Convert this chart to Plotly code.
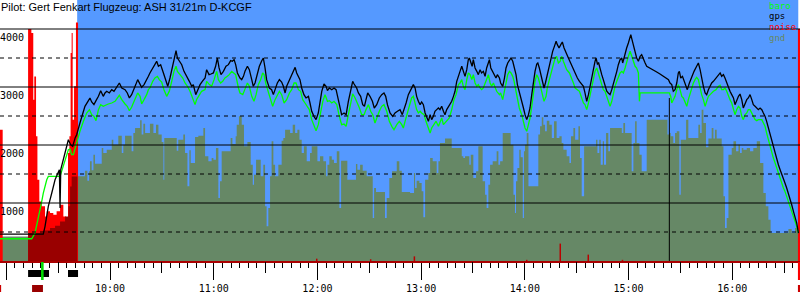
import plotly.graph_objects as go
import pandas as pd

# ---------------- data (minutes after 09:00, metres) ----------------
BASE = pd.Timestamp("2023-07-15 09:00:00")

title_text = "Pilot: Gert Fenkart Flugzeug: ASH 31/21m D-KCGF"
legend_names = ["baro", "gps", "noise", "gnd"]
y_solid = [1000, 2000, 3000, 4000]
y_dashed = [500, 1500, 2500, 3500]
y_tick_labels = ["1000", "2000", "3000", "4000"]
view_minutes = [-3.65, 459.2]
flight_minutes = [41.0, 458.2]
hour_ticks = [0, 60, 120, 180, 240, 300, 360, 420]
half_hour_ticks = [-30, 30, 90, 150, 210, 270, 330, 390, 450]

gps = [(-3.7,465),(21.4,465),(22.4,597),(24.3,942),(26.3,1172),(28.2,1401),(30.7,1574),(31.1,913),(31.5,1574),(33.0,1746),(34.9,1976),(35.9,2091),(37.2,2005),(38.4,1976),(39.8,2120),(40.7,2178),(42.6,2380),(44.6,2552),(45.5,2667),(47.5,2765),(48.4,2811),(49.4,2742),(50.7,2696),(51.9,2765),(53.3,2839),(54.6,2937),(55.2,2897),(56.1,2839),(57.1,2897),(58.1,2926),(59.6,2897),(61.0,2954),(62.3,2926),(63.9,2995),(65.4,3069),(66.8,2983),(68.7,2954),(70.0,2897),(71.2,2811),(72.5,2868),(73.5,2954),(74.9,3041),(76.0,3127),(77.4,3041),(78.3,2995),(79.7,3041),(80.8,3098),(82.2,3184),(83.1,3242),(84.7,3328),(86.0,3397),(87.0,3443),(88.0,3357),(89.3,3385),(90.9,3242),(92.4,3098),(93.4,3012),(94.7,3155),(96.3,3357),(97.6,3529),(98.2,3627),(99.0,3500),(100.1,3454),(101.5,3385),(102.8,3270),(104.0,3213),(104.8,3155),(105.9,3098),(107.3,3012),(108.2,3041),(109.6,2868),(110.7,2954),(112.1,3041),(113.4,3098),(115.0,3155),(115.9,3299),(117.3,3213),(118.4,3224),(119.8,3242),(121.1,3357),(122.1,3500),(123.1,3328),(124.2,3213),(125.6,3270),(127.1,3357),(128.5,3385),(129.8,3454),(130.8,3443),(131.8,3472),(132.7,3385),(133.7,3242),
       (135.2,3155),(136.2,3127),(137.2,3184),(138.1,3270),(139.5,3357),(140.6,3299),(142.0,3127),(142.9,3012),(143.9,3069),(145.3,3213),(146.4,3357),(147.8,3454),(148.7,3500),(149.7,3328),(150.6,3127),(152.2,2983),(153.5,2954),(154.5,2868),(155.5,2954),(156.8,3069),(158.0,3127),(159.3,3086),(160.3,3012),(161.3,2897),(162.2,3012),(163.8,3127),(165.1,3213),(166.1,3270),(167.1,3339),(168.0,3242),(169.0,3184),(169.9,3127),(170.9,2983),(172.2,2868),(173.4,2811),(174.8,2839),(175.7,2724),(176.7,2581),(178.0,2494),(179.2,2437),(180.5,2552),(181.5,2753),(182.5,2926),(183.8,3052),(185.0,3012),(185.8,2937),(186.9,2983),(188.3,2954),(189.6,2983),(190.8,2954),(191.5,2868),(192.7,2667),(194.0,2523),(195.4,2552),(196.6,2523),(197.9,2753),(199.3,2954),(200.4,3098),(201.2,3052),(202.7,2983),(203.7,2897),(205.0,2839),(206.2,2695),(207.2,2667),(208.1,2782),(209.1,2897),(210.4,2839),(211.8,2753),(212.9,2638),(214.3,2695),(215.8,2811),(217.2,2868),(218.5,2897),(219.5,2839),(220.5,2695),(222.0,2552),(223.6,2494),(224.9,2552),(226.3,2581),(227.8,2610),(229.1,2523),(230.1,2610),(231.3,2724),(232.6,2868),
       (234.5,2983),(235.5,3041),(236.5,2983),(237.4,2839),(238.4,2753),(239.4,2696),(240.3,2742),(241.3,2696),(242.3,2552),(243.2,2494),(244.2,2408),(245.2,2523),(246.1,2437),(247.1,2494),(248.0,2581),(249.0,2610),(250.0,2638),(250.9,2610),(251.9,2667),(252.9,2581),(253.8,2523),(254.8,2610),(255.8,2667),(256.7,2696),(257.7,2753),(258.7,2839),(259.6,2926),(260.6,3098),(261.6,3213),(262.5,3270),(263.5,3357),(264.4,3270),(265.4,3184),(266.4,3299),(267.3,3471),(267.9,3500),(268.7,3414),(269.5,3357),(270.2,3471),(271.2,3328),(272.2,3270),(273.1,3213),(274.1,3299),(275.0,3242),(276.0,3270),(277.0,3184),(277.9,3328),(278.9,3443),(279.5,3471),(280.3,3328),(281.4,3270),(282.2,3213),(283.3,3155),(284.1,3213),(285.3,3155),(286.0,3069),(287.2,3012),(288.2,3155),(289.1,3328),(290.1,3414),(291.1,3471),(292.0,3500),(293.0,3443),(293.8,3357),(294.9,3213),(295.7,3041),(296.8,2897),(298.2,2724),(299.2,2638),(300.1,2523),(301.1,2437),(302.1,2523),(303.0,2638),(304.0,2868),(304.9,3098),(305.9,3270),(306.9,3397),(307.5,3414),(308.4,3328),(309.2,3213),(310.2,3098),(311.1,2983),(311.9,3069),(313.0,3213),(314.2,3414),(315.0,3500),(316.1,3615),(317.1,3701),(318.1,3788),(318.8,3730),(319.8,3673),(320.8,3730),(321.7,3776),(322.7,3673),(323.8,3586),(325.2,3500),(326.5,3414),(327.7,3328),(329.1,3242),(330.4,3155),(331.6,3098),
       (332.9,3041),(333.9,3012),(334.8,2897),(335.8,2753),(336.8,2868),(337.7,3012),(338.7,3155),(339.7,3328),(340.6,3443),(341.2,3500),(342.0,3397),(342.7,3414),(343.5,3299),(344.5,3213),(345.4,3127),(346.4,3012),(347.4,2926),(348.3,2897),(349.3,2868),(350.3,2954),(351.2,3041),(352.2,3155),(353.2,3270),(354.1,3385),(355.1,3471),(356.1,3500),(356.6,3414),(357.4,3500),(358.0,3586),(358.9,3673),(359.9,3759),(360.5,3816),(361.3,3903),(362.0,3816),(362.8,3730),(363.8,3644),(364.7,3500),(365.7,3443),(366.7,3529),(367.6,3558),(368.6,3500),(369.6,3414),(370.5,3357),(372.4,3328),(374.4,3299),(376.3,3259),(378.2,3224),(380.2,3184),(382.1,3155),(383.1,3127),(384.0,3069),(385.0,3041),(385.9,2926),(386.9,2954),(387.9,3069),(388.8,3242),(389.4,3270),(390.2,3155),(391.2,3184),(392.1,3098),(393.3,2983),(394.0,2954),(395.2,3069),(396.6,3184),(397.9,3270),(399.4,3357),(400.4,3414),(401.4,3299),(402.3,3127),(403.3,3012),(404.3,2897),(405.2,2868),(406.2,2954),(407.2,3012),(408.1,3069),(409.1,3098),(410.6,3155),(412.0,3213),(413.0,3242),(413.9,3184),(414.9,3213),(415.8,3155),(416.8,3069),(417.8,2983),(418.7,2926),(419.7,2868),(420.7,2811),(421.6,2696),(422.6,2782),(423.6,2839),(424.5,2879),(425.5,2782),(426.4,2638),(427.4,2724),(428.4,2782),(429.3,2811),(430.3,2868),(431.3,2782),(432.2,2696),(433.2,2667),(434.2,2638),(435.1,2610),
       (436.1,2637),(437.1,2608),(438.0,2551),(439.0,2493),(439.9,2407),(440.9,2292),(441.9,2177),(442.8,2062),(443.8,1947),(444.8,1861),(445.7,1775),(446.7,1660),(447.7,1574),(448.6,1488),(449.6,1402),(450.5,1344),(451.5,1258),(452.5,1172),(453.4,1085),(454.4,970),(455.4,856),(456.3,769),(457.3,654),(458.3,482)]

baro = [(-3.7,384),(14.7,384),(16.6,482),(18.5,712),(19.5,884),(20.5,1028),(21.4,1172),(23.4,1401),(24.3,1459),(31.1,1459),(33.0,1631),(34.9,1804),(35.9,1919),(36.9,1930),(37.8,1833),(38.8,1833),(39.8,1947),
        (40.7,2040),(42.6,2236),(44.6,2408),(46.5,2552),(48.1,2610),(49.4,2523),(50.7,2494),(51.9,2420),(53.3,2610),(54.6,2696),(56.1,2667),(57.7,2696),(59.0,2707),(61.0,2724),(62.9,2753),(65.4,2857),(66.8,2782),(68.7,2707),(70.0,2667),(71.2,2592),(72.5,2650),(73.5,2724),(74.9,2839),(76.0,2897),(77.4,2839),(78.3,2707),(79.7,2782),(81.2,2868),(82.2,2954),(83.1,2983),(84.7,3098),(86.0,3155),(87.4,3184),(88.5,3127),(89.9,3086),(91.2,2954),(92.8,2839),(94.3,2926),(95.7,3098),(97.0,3270),(98.2,3357),(99.0,3270),(100.5,3213),(102.1,3155),(103.4,3069),(104.8,3012),(106.3,2926),(107.8,2811),(109.2,2696),(110.1,2782),(111.7,2868),(113.0,2926),(115.0,2954),(115.9,3098),(117.5,3041),(118.8,3012),(120.2,3127),(121.7,3270),(122.7,3127),(124.0,3069),(125.2,3098),(126.5,3155),(127.9,3184),(129.0,3213),(130.4,3270),(131.4,3242),(132.7,3213),(134.3,2983),
        (135.2,2897),(136.8,2868),(138.1,2983),(139.5,3069),(140.6,3012),(142.0,2839),(143.3,2753),(144.5,2868),(145.8,3041),(147.2,3127),(148.3,3242),(149.1,3213),(150.3,3041),(151.6,2926),(153.0,2782),(154.1,2667),(155.5,2782),(156.8,2868),(158.0,2926),(159.3,2868),(160.7,2724),(162.2,2782),(163.8,2897),(165.1,2954),(166.5,3069),(167.6,3069),(169.0,2954),(170.3,2926),(171.5,2782),(172.8,2724),(174.2,2650),(175.3,2610),(176.7,2437),(178.0,2351),(179.2,2247),(180.5,2351),(181.5,2523),(183.1,2753),(184.4,2868),(185.8,2753),(186.9,2765),(188.3,2724),(189.6,2753),(191.2,2696),(192.7,2494),(194.0,2351),(195.4,2362),(196.6,2322),(197.9,2523),(199.3,2753),(200.4,2880),(201.8,2811),(203.1,2724),(204.3,2638),(205.6,2523),(207.0,2523),(208.1,2610),(209.5,2696),(210.8,2581),(212.0,2523),(213.3,2379),(214.3,2465),(215.8,2581),(217.2,2667),(218.5,2696),(220.1,2581),(221.6,2408),(223.0,2322),(224.3,2264),(225.9,2351),(227.4,2408),(228.8,2351),(229.7,2293),(230.7,2408),(232.0,2552),
        (233.6,2696),(234.5,2811),(235.5,2839),(236.5,2724),(237.4,2610),(238.4,2552),(239.4,2581),(240.3,2552),(241.7,2523),(242.8,2408),(244.2,2293),(245.2,2207),(246.1,2293),(247.5,2351),(248.6,2408),(250.0,2322),(250.9,2379),(251.9,2465),(252.9,2351),(253.8,2379),(254.8,2408),(256.3,2465),(257.7,2610),(259.0,2782),(260.2,2868),(261.6,3041),(262.5,3069),(263.5,3127),(264.4,3012),(265.4,2954),(266.4,3127),(267.3,3242),(268.3,3213),(269.3,3127),(270.2,3213),(271.2,3069),(272.2,3012),(273.1,3041),(274.1,2983),(275.0,2954),(276.0,2983),(277.0,3069),(277.9,3127),(278.9,3213),(279.9,3069),(280.8,3012),(281.8,3069),(282.8,2983),(283.7,2926),(285.3,2868),(286.0,2897),(287.2,2782),(288.2,2926),(289.1,3098),(290.1,3213),(291.1,3270),(292.0,3242),(293.0,3184),(293.8,3098),(294.9,2926),(295.7,2782),(296.8,2638),(298.2,2523),(299.2,2408),(300.1,2293),(301.1,2236),(302.1,2351),(303.0,2465),(304.0,2667),(304.9,2926),(305.9,3098),(306.9,3213),(307.8,3155),(308.8,3041),(309.8,2897),(311.1,2753),(312.3,2839),(313.0,2983),(314.2,3127),(315.2,3242),(316.5,3414),(317.5,3500),(318.4,3529),(319.4,3414),(320.4,3443),(321.3,3529),(322.3,3443),(323.3,3357),(324.2,3299),(325.8,3242),(327.1,3155),(328.1,3069),(329.1,2983),(330.4,2954),(331.6,2926),
        (332.9,2811),(333.9,2724),(334.8,2696),(335.8,2610),(336.8,2724),(337.7,2868),(338.7,3012),(339.7,3155),(340.6,3270),(341.6,3328),(342.5,3242),(343.5,3155),(344.5,3069),(345.4,2954),(346.4,2926),(347.4,2839),(348.3,2753),(349.3,2667),(350.3,2753),(351.2,2897),(352.2,3012),(353.2,3098),(354.1,3184),(355.1,3242),(356.1,3270),(357.0,3242),(358.0,3328),(358.9,3443),(359.9,3529),(360.9,3615),(361.8,3529),(362.8,3414),(363.8,3357),(364.7,3328),(365.7,3242),(366.3,2753),(366.7,2897),(383.6,2897),(384.4,2839),(385.0,2724),(385.9,2782),(386.9,2839),(387.9,2954),(388.8,3041),(389.8,2954),(390.8,2839),(391.7,2811),(392.7,2753),(393.7,2667),(394.6,2782),(395.6,2897),(396.6,2983),(397.5,3069),(398.5,3127),(399.4,3167),(400.4,3127),(401.4,2983),(402.3,2868),(403.3,2782),(404.3,2667),(405.2,2753),(406.2,2839),(407.2,2868),(408.1,2897),(409.1,2926),(410.6,2954),(412.0,3012),(413.0,3029),(413.9,2954),(414.9,2954),(415.8,2983),(416.8,2926),(417.8,2839),(418.7,2782),(419.7,2724),(420.7,2610),(421.6,2523),(422.6,2610),(423.6,2667),(424.5,2638),(425.5,2494),(426.4,2437),(427.4,2523),(428.4,2552),(429.3,2610),(430.3,2610),(431.3,2552),(432.2,2494),(433.2,2437),(434.2,2420),(435.1,2437),
        (437.1,2436),(438.0,2378),(439.0,2321),(439.9,2206),(440.9,2091),(441.9,1976),(442.8,1861),(443.8,1775),(444.8,1689),(445.7,1603),(446.7,1516),(447.7,1430),(448.6,1344),(449.6,1258),(450.5,1200),(451.5,1114),(452.5,1028),(453.4,942),(454.4,856),(455.4,770),(456.3,683),(457.3,597),(458.3,482)]

gnd = [(-3.7,424),(41.1,1460),(45.5,1558),(46.9,1385),(47.9,1546),(48.4,1719),(49.4,1564),(50.4,1834),(51.3,1678),(55.2,1949),(56.1,1862),(58.1,1920),(61.0,2092),(61.9,2006),(64.8,2161),(66.8,1862),(67.7,2006),(68.7,2161),(72.5,1891),(73.5,2207),(74.5,2293),(77.4,2426),(78.3,2179),(79.3,2368),(80.3,2207),(83.1,2368),(85.1,2207),(86.6,2351),(88.0,2179),(89.9,2052),(90.9,1403),(91.4,2121),(98.6,1903),(99.5,2092),(102.4,2179),(103.4,1862),(104.8,1288),(105.9,1908),(106.7,1690),(109.2,2138),(111.1,2161),(114.0,2293),(115.0,1805),(116.9,1719),(118.8,1776),(119.8,1747),(121.3,1949),(122.7,1087),(123.6,1374),(124.6,1891),(129.8,2121),(130.8,2018),(132.7,2150),(133.3,2351),(134.6,2494),
       (136.2,2351),(137.5,1977),(139.5,2052),(141.4,1661),(142.6,1316),(143.3,1489),(144.5,1747),(147.2,1460),(148.7,1661),(149.7,943),(150.6,598),(151.6,914),(152.6,1460),(153.5,2064),(154.5,1661),(155.5,1460),(157.4,1661),(159.3,2075),(160.3,2121),(161.3,2265),(164.2,2207),(165.7,2351),(167.1,2207),(168.4,2265),(169.6,2092),(170.9,1862),(172.2,1977),(173.8,1719),(175.7,1862),(176.7,1977),(180.0,1719),(181.5,1805),(183.4,1719),(185.0,1460),(185.8,1661),(186.9,1805),(188.3,1747),(189.6,1690),(191.2,1891),(192.7,914),(193.7,1730),(197.3,1403),(202.3,1673),(203.1,1575),(204.7,1661),(206.2,1558),(208.5,1460),(212.0,742),(212.8,1259),(213.9,1190),(219.1,742),(220.1,1087),(221.6,1431),(223.2,1546),(225.9,1719),(227.4,1558),(228.8,1190),
       (233.6,1173),(235.9,1517),(236.5,1259),(237.4,1385),(239.0,1345),(240.3,1201),(241.3,753),(242.3,1403),(244.2,1517),(245.2,1776),(246.7,1719),(249.0,1517),(250.0,1719),(250.9,2035),(253.8,2110),(257.7,1949),(263.5,1805),(264.4,1776),(265.4,1805),(267.9,1661),(268.7,1834),(270.2,1431),(271.8,1546),(273.1,1977),(275.6,1374),(277.0,1144),(277.9,914),(278.9,1316),(279.9,1661),(281.4,1719),(283.7,1891),(284.7,1661),(285.7,1719),(287.2,2207),(291.8,2006),(293.4,1144),(294.3,828),(294.9,1374),(295.7,1604),(296.8,1920),(297.6,1788),(298.8,742),(299.5,1891),(300.1,2006),(301.1,2207),(302.1,1288),(307.8,2179),(308.8,2322),(309.8,2477),(310.7,2351),(311.7,2236),(312.7,2420),(314.2,2351),(315.6,2121),(316.9,2408),(318.4,2121),(320.0,2150),(321.3,2035),(322.3,1920),(324.2,1805),(325.8,1690),(326.7,2150),(328.1,2293),(329.1,2092),(331.0,2322),
       (331.9,1776),(332.9,1115),(334.3,1977),(341.2,2092),(342.0,1862),(343.1,2092),(343.9,1661),(345.1,2064),(345.8,1661),(347.0,2207),(348.3,1891),(349.3,2293),(356.1,2207),(357.0,2380),(358.0,2207),(361.8,1546),(362.8,2035),(363.8,2408),(364.7,2035),(366.3,1834),(367.6,1546),(370.5,2437),(382.5,2179),(383.6,2207),(384.4,2150),(385.9,2035),(386.9,2207),(387.9,2236),(389.4,1144),(390.2,2092),(393.3,2437),(394.6,2121),(400.4,2351),(401.4,2207),(402.3,2609),(403.3,2380),(404.8,1960),(406.2,2110),(408.1,2293),(409.1,2110),(410.0,2265),(411.0,2110),(413.9,1977),(414.9,1115),(415.8,569),(416.8,742),(417.8,1834),(419.7,1949),(420.7,2064),(422.2,1891),(423.6,2006),(424.5,1862),(425.5,1949),(426.4,1920),(428.4,1949),(430.3,1891),(432.2,1949),(434.2,2064),
       (436.1,1689),(438.0,1172),(439.4,942),(440.9,712),(442.2,482),(452.5,551),(454.4,482),(456.3,568),(457.7,482),(459.3,482)]

noise = [(-3.7,2263),(-2.1,0),(12.6,4000),(14.5,3930),(15.6,2781),(16.2,3183),(17.2,2149),(18.0,1401),(19.1,1028),(20.5,942),(22.4,769),(23.4,856),(25.3,828),(27.2,798),(29.1,856),(31.1,971),(33.0,769),(34.5,712),(35.7,1861),(36.5,2149),(37.2,3585),(37.8,3930),(38.4,2436),(39.2,3011),(40.3,4110),(41.5,0),(458.0,4000),(459.3,4000)]

engine_ground = [(12.6,482),(21.4,528),(25.3,568),(28.2,609),(31.1,683),(34.0,769),(35.9,942),(36.9,1286),(37.8,1459),(41.1,1459)]

noise_spikes = [(179.6,40),(210.8,30),(236.1,80),(301.1,20),(320.5,300),(336.7,110),(356.5,20)]

gps_gap_marker = (383.6, 2810)

# markers in the strip under the time axis (start, end) in minutes
engine_blocks = [(12.6, 24.7), (35.7, 41.5)]
release_mark = (20.1, 21.6)
start_block = (14.9, 21.2)
red_marks_low = [(-3.65, -3.0), (458.0, 459.2)]
red_marks_high = [(458.0, 459.2)]

# ---------------- styling ----------------
BLUE = "#5599ff"
GND = "#668866"
BARO = "#00ff00"
RED = "#ff0000"
DARKRED = "#990000"
MONO = "DejaVu Sans Mono"

W, H, B = 800, 300, 39
PLOT_H = H - B


def ts(m):
    return BASE + pd.Timedelta(minutes=m)


def xs(pairs):
    return [ts(p[0]) for p in pairs]


def ys(pairs):
    return [p[1] for p in pairs]


def py(px):
    return (PLOT_H - px) / PLOT_H


fig = go.Figure()

# dummy trace to activate the half-hour tick axis
fig.add_trace(go.Scatter(x=[ts(m) for m in half_hour_ticks], y=[0] * len(half_hour_ticks),
                         xaxis="x2", mode="markers", marker=dict(opacity=0),
                         hoverinfo="skip", showlegend=False))

fig.add_trace(go.Scatter(x=xs(gnd), y=ys(gnd), mode="lines", name="gnd",
                         line=dict(shape="hv", width=0, color=GND),
                         fill="tozeroy", fillcolor=GND, showlegend=False))
fig.add_trace(go.Scatter(x=xs(noise), y=ys(noise), mode="lines", name="noise",
                         line=dict(shape="hv", width=0, color=RED),
                         fill="tozeroy", fillcolor=RED, showlegend=False))
fig.add_trace(go.Scatter(x=xs(engine_ground), y=ys(engine_ground), mode="lines",
                         line=dict(shape="hv", width=0, color=DARKRED),
                         fill="tozeroy", fillcolor=DARKRED, showlegend=False))

sx, sy = [], []
for t, v in noise_spikes:
    sx += [ts(t), ts(t), None]
    sy += [0, v, None]
fig.add_trace(go.Scatter(x=sx, y=sy, mode="lines", line=dict(color="#bb0000", width=1.5),
                         showlegend=False))

fig.add_trace(go.Scatter(x=[ts(gps_gap_marker[0])] * 2, y=[0, gps_gap_marker[1]], mode="lines",
                         line=dict(color="black", width=1), showlegend=False))

fig.add_trace(go.Scatter(x=xs(baro), y=ys(baro), mode="lines", name="baro",
                         line=dict(color=BARO, width=1.3), showlegend=False))
fig.add_trace(go.Scatter(x=xs(gps), y=ys(gps), mode="lines", name="gps",
                         line=dict(color="black", width=1.3), showlegend=False))

shapes = []
shapes.append(dict(type="rect", xref="x", yref="paper", x0=ts(flight_minutes[0]), x1=ts(flight_minutes[1]),
                   y0=0, y1=1, fillcolor=BLUE, line=dict(width=0), layer="below"))
for v in y_solid:
    shapes.append(dict(type="line", xref="paper", yref="y", x0=0, x1=1, y0=v, y1=v,
                       line=dict(color="black", width=1), layer="above"))
for v in y_dashed:
    shapes.append(dict(type="line", xref="paper", yref="y", x0=0, x1=1, y0=v, y1=v,
                       line=dict(color="black", width=1, dash="4px,4px"), layer="above"))

for a, b in engine_blocks:
    shapes.append(dict(type="rect", xref="x", yref="paper", x0=ts(a), x1=ts(b), y0=py(277), y1=py(270),
                       fillcolor="black", line=dict(width=0), layer="above"))
shapes.append(dict(type="rect", xref="x", yref="paper", x0=ts(release_mark[0]), x1=ts(release_mark[1]),
                   y0=py(280), y1=py(262), fillcolor="#00dd00", line=dict(width=0), layer="above"))
shapes.append(dict(type="rect", xref="x", yref="paper", x0=ts(start_block[0]), x1=ts(start_block[1]),
                   y0=py(292), y1=py(285), fillcolor=DARKRED, line=dict(width=0), layer="above"))
for a, b in red_marks_low:
    shapes.append(dict(type="rect", xref="x", yref="paper", x0=ts(a), x1=ts(b),
                       y0=py(292), y1=py(285), fillcolor="#cc0000", line=dict(width=0), layer="above"))
for a, b in red_marks_high:
    shapes.append(dict(type="rect", xref="x", yref="paper", x0=ts(a), x1=ts(b),
                       y0=py(280), y1=py(262), fillcolor=RED, line=dict(width=0), layer="above"))

annotations = []
annotations.append(dict(text=title_text, xref="paper", yref="paper", x=0, y=1, xanchor="left", yanchor="top",
                        showarrow=False, font=dict(family="Liberation Sans", size=11, color="black"),
                        xshift=-1, yshift=1))
legend_colors = [BARO, "black", RED, GND]
legend_y_px = [6.5, 16.5, 27, 37.5]
for name, col, ypx in zip(legend_names, legend_colors, legend_y_px):
    annotations.append(dict(text=name, xref="paper", yref="paper", x=769 / W, y=py(ypx),
                            xanchor="left", yanchor="middle", showarrow=False, borderpad=0,
                            font=dict(family=MONO, size=9, color=col), xshift=-1))
for v, lab in zip(y_solid, y_tick_labels):
    annotations.append(dict(text=lab, xref="paper", yref="y", x=0, y=v, xanchor="left", yanchor="top",
                            showarrow=False, font=dict(family=MONO, size=10, color="black"),
                            xshift=-2, yshift=-1))

xr = [ts(view_minutes[0]), ts(view_minutes[1])]
fig.update_layout(
    width=W, height=H,
    margin=dict(l=0, r=0, t=0, b=B),
    paper_bgcolor="white", plot_bgcolor="white",
    showlegend=False,
    shapes=shapes, annotations=annotations,
    xaxis=dict(type="date", range=xr, tickvals=[ts(m) for m in hour_ticks], tickformat="%H:%M",
               ticks="outside", ticklen=17, tickwidth=1, tickcolor="black",
               tickfont=dict(family=MONO, size=10, color="black"),
               showgrid=False, zeroline=False, showline=True, linecolor="#aa0000", linewidth=2,
               minor=dict(dtick=300000, tick0=ts(0), ticks="outside", ticklen=5, tickwidth=1,
                          tickcolor="black", showgrid=False)),
    xaxis2=dict(type="date", range=xr, overlaying="x", anchor="y", side="bottom",
                tickvals=[ts(m) for m in half_hour_ticks], ticks="outside", ticklen=11, tickwidth=1,
                tickcolor="black", showticklabels=False, showgrid=False, zeroline=False, showline=False),
    yaxis=dict(range=[0, 4500], showgrid=False, zeroline=False, showticklabels=False, ticks="",
               showline=False),
)

fig.write_html("out.html")
